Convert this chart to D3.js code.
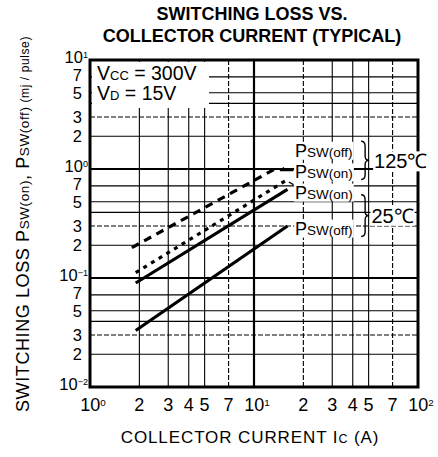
<!DOCTYPE html>
<html>
<head>
<meta charset="utf-8">
<script src="https://cdn.jsdelivr.net/npm/d3@7"></script>
<style>
  body { margin: 0; background: #fff; }
  text { font-family: "Liberation Sans", Arial, sans-serif; fill: #000; }
</style>
</head>
<body>
<div id="chart"></div>
<script>
// tick values and labels
var xTicks = [1, 2, 3, 4, 5, 7, 10, 20, 30, 40, 50, 70, 100];
var xLabels = [["10", "0"], ["2"], ["3"], ["4"], ["5"], ["7"], ["10", "1"], ["2"], ["3"], ["4"], ["5"], ["7"], ["10", "2"]];
var yTicks = [0.01, 0.02, 0.03, 0.04, 0.05, 0.07, 0.1, 0.2, 0.3, 0.4, 0.5, 0.7, 1, 2, 3, 4, 5, 7, 10];
var yLabels = [["10", "−2"], ["2"], ["3"], [""], ["5"], ["7"], ["10", "−1"], ["2"], ["3"], [""], ["5"], ["7"],
               ["10", "0"], ["2"], ["3"], [""], ["5"], ["7"], ["10", "1"]];

// curves (Ic in A, loss in mJ/pulse)
var names = ["PSW(off) 125C", "PSW(on) 125C", "PSW(on) 25C", "PSW(off) 25C"];
var ic = [[1.8, 13.4], [1.9, 16], [1.9, 16], [1.9, 16]];
var loss = [[0.19, 1.0], [0.112, 0.80], [0.09, 0.65], [0.033, 0.30]];
var dashes = ["8,6", "4,5", null, null];

// curve labels
var labVal = [1.5, 0.95, 0.62, 0.29];
var labTxt = [["P", "SW(off)"], ["P", "SW(on)"], ["P", "SW(on)"], ["P", "SW(off)"]];

var width = 438, height = 457;
var margin = {top: 60, right: 20, bottom: 70, left: 90};

var svg = d3.select("#chart").append("svg")
    .attr("width", width).attr("height", height);

var x = d3.scaleLog().domain([1, 100]).range([margin.left, width - margin.right]);
var y = d3.scaleLog().domain([0.01, 10]).range([height - margin.bottom, margin.top]);

// title
svg.append("text").attr("x", 252).attr("y", 20).attr("text-anchor", "middle")
    .style("font-weight", "bold").style("font-size", "18px").text("SWITCHING LOSS VS.");
svg.append("text").attr("x", 252).attr("y", 42).attr("text-anchor", "middle")
    .style("font-weight", "bold").style("font-size", "18px").text("COLLECTOR CURRENT (TYPICAL)");

// grid
var grid = svg.append("g");
grid.selectAll("line.v").data(xTicks.slice(1, -1)).enter().append("line")
    .attr("x1", function(d) { return x(d); }).attr("x2", function(d) { return x(d); })
    .attr("y1", y(10)).attr("y2", y(0.01))
    .attr("stroke", "#000")
    .attr("stroke-width", function(d) { return d == 10 ? 2.2 : 1.1; })
    .attr("stroke-dasharray", function(d) { return (d == 7 || d == 20 || d == 70) ? "5,2" : null; });
grid.selectAll("line.h").data(yTicks.slice(1, -1)).enter().append("line")
    .attr("y1", function(d) { return y(d); }).attr("y2", function(d) { return y(d); })
    .attr("x1", x(1)).attr("x2", x(100))
    .attr("stroke", "#000")
    .attr("stroke-width", function(d) { return (d == 1 || d == 0.1) ? 2 : 1.1; })
    .attr("stroke-dasharray", function(d) { return (d == 0.03 || d == 0.3 || d == 3) ? "5,2" : null; });

// condition box
var cond = svg.append("g");
cond.append("rect").attr("x", x(1) + 2).attr("y", y(10) + 2).attr("width", 117).attr("height", 46).attr("fill", "#fff");
var t1 = cond.append("text").attr("x", x(1) + 7).attr("y", y(10) + 20).style("font-size", "19.5px");
t1.append("tspan").text("V");
t1.append("tspan").style("font-size", "13px").text("CC");
t1.append("tspan").text(" = 300V");
var t2 = cond.append("text").attr("x", x(1) + 7).attr("y", y(10) + 40).style("font-size", "19.5px");
t2.append("tspan").text("V");
t2.append("tspan").style("font-size", "13px").text("D");
t2.append("tspan").text(" = 15V");

// axes frame
svg.append("rect").attr("x", x(1)).attr("y", y(10))
    .attr("width", x(100) - x(1)).attr("height", y(0.01) - y(10))
    .attr("fill", "none").attr("stroke", "#000").attr("stroke-width", 3);

// curves
var line = d3.line().x(function(d) { return x(d[0]); }).y(function(d) { return y(d[1]); });
names.forEach(function(n, i) {
    svg.append("path")
        .datum(ic[i].map(function(v, j) { return [v, loss[i][j]]; }))
        .attr("fill", "none").attr("stroke", "#000").attr("stroke-width", 3.2)
        .attr("stroke-dasharray", dashes[i])
        .attr("d", line);
});

// text with white backing
function backed(g, t, pad) {
    var b = t.node().getBBox();
    g.insert("rect", function() { return t.node(); })
        .attr("x", b.x - pad).attr("y", b.y + 1).attr("width", b.width + 2 * pad).attr("height", b.height - 2)
        .attr("fill", "#fff");
}

var ann = svg.append("g");
labVal.forEach(function(v, i) {
    var t = ann.append("text").attr("x", x(17.8)).attr("y", y(v) + 7).style("font-size", "18px");
    t.append("tspan").text(labTxt[i][0]);
    t.append("tspan").style("font-size", "13.5px").text(labTxt[i][1]);
    backed(ann, t, 1);
});
// small arrows from labels to curve ends
ann.append("path").attr("d", "M" + x(14.4) + "," + y(0.97) + "L" + x(17.4) + "," + y(0.97) +
        "M" + x(14.4) + "," + y(0.97) + "l4,-3")
    .attr("fill", "none").attr("stroke", "#000").attr("stroke-width", 1.4);
ann.append("path").attr("d", "M" + x(16.3) + "," + y(0.76) + "L" + x(17.4) + "," + y(0.72))
    .attr("fill", "none").attr("stroke", "#000").attr("stroke-width", 1.4);

// braces
function brace(xb, y0, y1) {
    var ym = (y0 + y1) / 2;
    return "M" + xb + "," + y0 + " q4,0 4,5 L" + (xb + 4) + "," + (ym - 4) + " q0,4 4,4 q-4,0 -4,4 L" + (xb + 4) + "," + (y1 - 5) + " q0,5 -4,5";
}
ann.append("path").attr("d", brace(x(45), y(1.8), y(0.8))).attr("fill", "none").attr("stroke", "#000").attr("stroke-width", 1.4);
ann.append("path").attr("d", brace(x(45), y(0.58), y(0.24))).attr("fill", "none").attr("stroke", "#000").attr("stroke-width", 1.4);
var c1 = ann.append("text").attr("x", x(54)).attr("y", y(1.2) + 8).style("font-size", "20px").text("125℃");
backed(ann, c1, 1);
var c2 = ann.append("text").attr("x", x(52)).attr("y", y(0.38) + 8).style("font-size", "20px").text("25℃");
backed(ann, c2, 1);

// tick labels
function tickText(sel, lab) {
    sel.append("tspan").text(lab[0]);
    if (lab[1]) sel.append("tspan").attr("dy", "-0.55em").style("font-size", "0.55em").text(lab[1]);
}
svg.append("g").selectAll("text").data(yTicks).enter().append("text")
    .attr("x", function(d, i) { return yLabels[i][1] ? margin.left - 2 : margin.left - 8; })
    .attr("y", function(d, i) { return y(d) + (yLabels[i][1] ? 3 : (yLabels[i][0] == "7" ? 4 : 6)); })
    .attr("text-anchor", "end").style("font-size", "16.5px")
    .each(function(d, i) { tickText(d3.select(this), yLabels[i]); });
svg.append("g").selectAll("text").data(xTicks).enter().append("text")
    .attr("x", function(d, i) { return x(d) + (xLabels[i][1] ? 3 : 0); })
    .attr("y", height - margin.bottom + 24)
    .attr("text-anchor", "middle").style("font-size", "18px")
    .each(function(d, i) { tickText(d3.select(this), xLabels[i]); });

// axis titles
var xt = svg.append("text").attr("x", 250).attr("y", 443).attr("text-anchor", "middle")
    .style("font-size", "17px").style("letter-spacing", "0.9px");
xt.append("tspan").text("COLLECTOR  CURRENT  I");
xt.append("tspan").style("font-size", "12.5px").text("C");
xt.append("tspan").text("  (A)");

var yt = svg.append("text").attr("transform", "translate(29,224) rotate(-90)")
    .attr("text-anchor", "middle").style("font-size", "18px").style("letter-spacing", "0.6px");
yt.append("tspan").text("SWITCHING  LOSS  P");
yt.append("tspan").style("font-size", "13.5px").text("SW(on)");
yt.append("tspan").text(",  P");
yt.append("tspan").style("font-size", "13.5px").text("SW(off)");
yt.append("tspan").style("font-size", "12px").text("   (mj / pulse)");
</script>
</body>
</html>
